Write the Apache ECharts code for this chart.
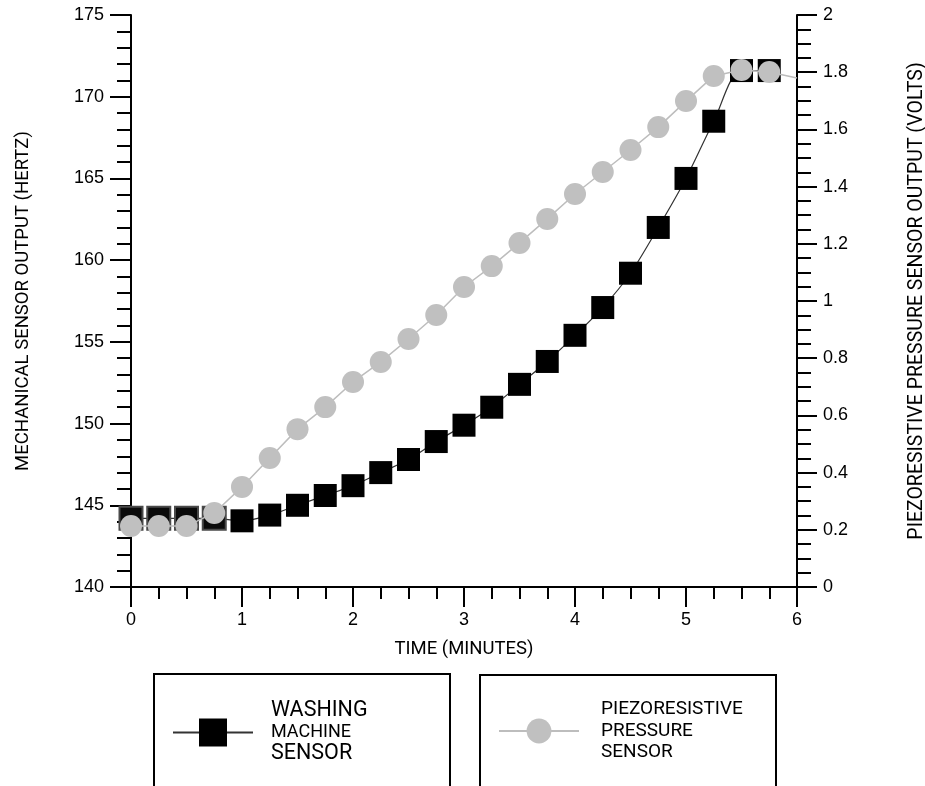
<!DOCTYPE html>
<html><head><meta charset="utf-8">
<script src="https://cdn.jsdelivr.net/npm/echarts@6/dist/echarts.min.js"></script>
<style>html,body{margin:0;padding:0;background:#fff}#c{width:925px;height:786px}</style>
</head><body><div id="c"></div>
<script>
// ---- data ----
const timeMinutes = [0, 0.25, 0.5, 0.75, 1, 1.25, 1.5, 1.75, 2, 2.25, 2.5, 2.75, 3, 3.25, 3.5, 3.75, 4, 4.25, 4.5, 4.75, 5, 5.25, 5.5, 5.75];
const washingHz = [144.2, 144.2, 144.2, 144.2, 144.05, 144.4, 145.0, 145.6, 146.2, 147.0, 147.8, 148.9, 149.9, 151.0, 152.4, 153.8, 155.4, 157.1, 159.2, 162.0, 165.0, 168.5, 171.6, 171.6];
const piezoVolts = [0.213, 0.213, 0.213, 0.259, 0.35, 0.451, 0.552, 0.629, 0.717, 0.787, 0.867, 0.951, 1.049, 1.122, 1.203, 1.287, 1.374, 1.451, 1.528, 1.608, 1.699, 1.787, 1.808, 1.801];
const piezoTailTime = [6];
const piezoTailVolts = [1.78];
const seriesNames = ['WASHING MACHINE SENSOR', 'PIEZORESISTIVE PRESSURE SENSOR'];
const axisNames = ['TIME (MINUTES)', 'MECHANICAL SENSOR OUTPUT (HERTZ)', 'PIEZORESISTIVE PRESSURE SENSOR OUTPUT (VOLTS)'];

// ---- chart ----
const FONT = "Roboto, 'Liberation Sans', Arial, sans-serif";
const NUMFONT = "'Liberation Sans', Arial, sans-serif";
const chart = echarts.init(document.getElementById('c'), null, {renderer: 'canvas'});

const washingData = timeMinutes.map((t, i) => i < 4
  ? {value: [t, washingHz[i]], itemStyle: {color: '#0a0a0a', borderColor: '#4a4a4a', borderWidth: 2}}
  : [t, washingHz[i]]);
const piezoData = timeMinutes.map((t, i) => [t, piezoVolts[i]])
  .concat(piezoTailTime.map((t, i) => ({value: [t, piezoTailVolts[i]], symbol: 'none'})));

const axisBlack = {color: '#000', width: 2};
const labelStyle = {fontFamily: NUMFONT, fontSize: 18, color: '#000'};
function yAxisCfg(extra) {
  return Object.assign({
    type: 'value',
    nameLocation: 'middle',
    nameTextStyle: {fontFamily: FONT, fontSize: 18.5, color: '#000'},
    axisLine: {show: true, lineStyle: axisBlack},
    axisTick: {show: true, length: 21, lineStyle: axisBlack},
    minorTick: {show: true, length: 14, lineStyle: axisBlack},
    splitLine: {show: false},
    minorSplitLine: {show: false},
    axisLabel: Object.assign({margin: 27}, labelStyle)
  }, extra);
}

chart.setOption({
  backgroundColor: '#fff',
  animation: false,
  grid: {left: 131, right: 128, top: 15, bottom: 199, containLabel: false, outerBoundsMode: 'none'},
  xAxis: {
    type: 'value', min: 0, max: 6, interval: 1,
    name: axisNames[0], nameLocation: 'middle', nameGap: 53,
    nameTextStyle: {fontFamily: FONT, fontSize: 18.5, color: '#000'},
    axisLine: {show: true, onZero: false, lineStyle: axisBlack},
    axisTick: {show: true, length: 20, lineStyle: axisBlack},
    minorTick: {show: true, splitNumber: 4, length: 12, lineStyle: axisBlack},
    splitLine: {show: false},
    axisLabel: Object.assign({margin: 24}, labelStyle)
  },
  yAxis: [
    yAxisCfg({position: 'left', min: 140, max: 175, interval: 5, name: axisNames[1], nameGap: 98,
      minorTick: {show: true, splitNumber: 5, length: 14, lineStyle: axisBlack}}),
    yAxisCfg({position: 'right', min: 0, max: 2, interval: 0.2, name: axisNames[2], nameGap: 110,
      nameTextStyle: {fontFamily: FONT, fontSize: 19.5, color: '#000'},
      axisTick: {show: true, length: 20, lineStyle: axisBlack},
      minorTick: {show: true, splitNumber: 4, length: 14, lineStyle: axisBlack},
      axisLabel: Object.assign({margin: 26, formatter: v => String(Math.round(v * 10) / 10)}, labelStyle)})
  ],
  legend: [
    {
      data: [seriesNames[0]], left: 172, top: 700, padding: 0, selectedMode: false,
      itemWidth: 80, itemHeight: 35,
      formatter: () => '{a|WASHING}\n{b|MACHINE}\n{a|SENSOR}',
      textStyle: {fontFamily: FONT, color: '#000', padding: [0, 0, 0, 13],
        rich: {a: {fontFamily: FONT, fontSize: 21.5, lineHeight: 21.5, color: '#000'},
               b: {fontFamily: FONT, fontSize: 18, lineHeight: 21.5, color: '#000'}}}
    },
    {
      data: [seriesNames[1]], left: 498, top: 700, padding: 0, selectedMode: false,
      itemWidth: 80, itemHeight: 31,
      formatter: () => '{c|PIEZORESISTIVE}\n{c|PRESSURE}\n{c|SENSOR}',
      textStyle: {fontFamily: FONT, color: '#000', padding: [0, 0, 0, 17],
        rich: {c: {fontFamily: FONT, fontSize: 19, lineHeight: 21.5, color: '#000'}}}
    }
  ],
  graphic: [
    {type: 'rect', silent: true, z: 0, shape: {x: 154, y: 674, width: 296, height: 200},
      style: {fill: 'none', stroke: '#000', lineWidth: 2}},
    {type: 'rect', silent: true, z: 0, shape: {x: 480, y: 675, width: 296, height: 200},
      style: {fill: 'none', stroke: '#000', lineWidth: 2}}
  ],
  series: [
    {
      name: seriesNames[0], type: 'line', xAxisIndex: 0, yAxisIndex: 0, z: 2,
      data: washingData, smooth: 0.3,
      symbol: 'rect', symbolSize: 23,
      itemStyle: {color: '#000'},
      lineStyle: {color: '#333', width: 1.2}
    },
    {
      name: seriesNames[1], type: 'line', xAxisIndex: 0, yAxisIndex: 1, z: 3,
      data: piezoData, smooth: false,
      symbol: 'circle', symbolSize: 22,
      itemStyle: {color: '#c0c0c0'},
      lineStyle: {color: '#bdbdbd', width: 1.5}
    }
  ]
});
</script></body></html>
